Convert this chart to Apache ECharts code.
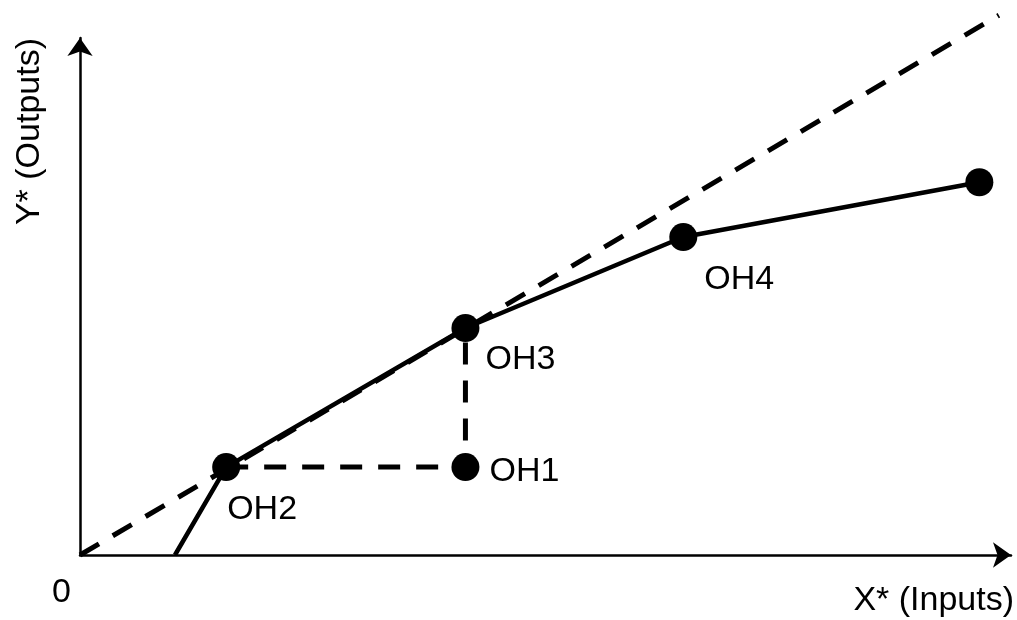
<!DOCTYPE html>
<html>
<head>
<meta charset="utf-8">
<script src="https://cdn.jsdelivr.net/npm/echarts@6/dist/echarts.min.js"></script>
<style>
html,body{margin:0;padding:0;background:#fff;}
#chart{width:1017px;height:620px;}
</style>
</head>
<body>
<div id="chart"></div>
<script>
// ---- data ----
const pointNames = ['OH2', 'OH1', 'OH3', 'OH4', ''];
const pointX = [15.7, 41.4, 41.4, 64.8, 96.6];
const pointY = [17.0, 17.0, 43.9, 61.5, 72.1];

const envelopeX = [10.2, 15.7, 41.4, 64.8, 96.6];
const envelopeY = [0, 17.0, 43.9, 61.5, 72.1];

const frontierX = [0, 98.7];
const frontierY = [0, 104.4];

const projectionX = [15.7, 41.4, 41.4];
const projectionY = [17.0, 17.0, 43.9];

const xTickLabels = ['0'];
const xAxisName = 'X* (Inputs)';
const yAxisName = 'Y* (Outputs)';

// ---- build ----
const zip = (xs, ys) => xs.map((x, i) => [x, ys[i]]);
const FONT = 'Liberation Sans';
const labelOffsets = { OH2: [15, 57], OH1: [38, 19], OH3: [34, 46], OH4: [35, 57] };

const chart = echarts.init(document.getElementById('chart'), null, { renderer: 'canvas' });
chart.setOption({
  backgroundColor: '#ffffff',
  animation: false,
  grid: { left: 80, right: 5, top: 38, bottom: 65, containLabel: false },
  xAxis: {
    type: 'value', min: 0, max: 100, interval: 100,
    name: xAxisName, nameLocation: 'end', nameGap: 3,
    nameTextStyle: { fontFamily: FONT, fontSize: 34, color: '#000', align: 'right', verticalAlign: 'top', padding: [29, 0, 0, 0] },
    axisLine: { show: true, symbol: ['none', 'arrow'], symbolSize: [19, 18], lineStyle: { color: '#000', width: 2.5 } },
    axisTick: { show: false },
    splitLine: { show: false },
    axisLabel: {
      fontFamily: FONT, fontSize: 34, color: '#000', margin: 21, align: 'right', padding: [0, 9, 0, 0],
      formatter: v => (v === 0 ? xTickLabels[0] : '')
    }
  },
  yAxis: {
    type: 'value', min: 0, max: 100, interval: 100,
    name: yAxisName, nameLocation: 'end', nameGap: 0, nameRotate: 90,
    nameTextStyle: { fontFamily: FONT, fontSize: 34, color: '#000', align: 'right', verticalAlign: 'bottom', padding: [0, 0, 33, 0] },
    axisLine: { show: true, symbol: ['none', 'arrow'], symbolSize: [19, 18], lineStyle: { color: '#000', width: 2.5 } },
    axisTick: { show: false },
    splitLine: { show: false },
    axisLabel: { show: false }
  },
  series: [
    {
      type: 'line', data: zip(frontierX, frontierY), clip: false, showSymbol: false, symbol: 'none',
      lineStyle: { color: '#000', width: 5, type: [22, 16] }, silent: true
    },
    {
      type: 'line', data: zip(envelopeX, envelopeY), showSymbol: false, symbol: 'none',
      lineStyle: { color: '#000', width: 4.5 }, silent: true
    },
    {
      type: 'line', data: zip(projectionX, projectionY), showSymbol: false, symbol: 'none',
      lineStyle: { color: '#000', width: 5, type: [22, 16] }, silent: true
    },
    {
      type: 'scatter', symbol: 'circle', symbolSize: 28,
      itemStyle: { color: '#000', opacity: 1 },
      emphasis: { disabled: true },
      data: pointX.map((x, i) => ({
        value: [x, pointY[i]], name: pointNames[i],
        label: {
          show: pointNames[i] !== '',
          position: labelOffsets[pointNames[i]] || [0, 0],
          align: 'left', verticalAlign: 'middle',
          formatter: '{b}', fontFamily: FONT, fontSize: 34, color: '#000', opacity: 1
        }
      })),
      z: 5
    }
  ]
});
</script>
</body>
</html>
